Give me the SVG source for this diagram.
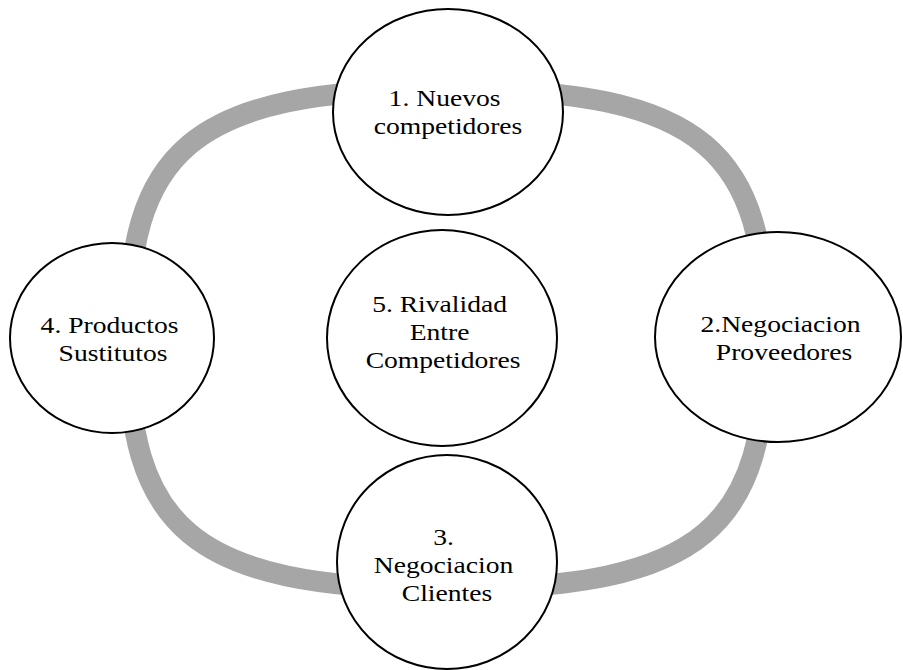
<svg xmlns="http://www.w3.org/2000/svg" width="903" height="670" viewBox="0 0 903 670">
  <style>
    .ring { fill: none; stroke: #A6A6A6; stroke-width: 21; }
    .node { fill: #FFFFFF; stroke: #000000; stroke-width: 2; }
    .label { font-family: Liberation Serif, Times New Roman, Times, serif; font-size: 23px; fill: #000000; text-anchor: middle; }
  </style>

  <!-- cycle ring behind the nodes -->
  <g id="connectors">
    <path class="ring" d="M447,89 C185.4,89 128,154 128,339 C128,524 185.4,589 447,589 C708.6,589 766,524 766,339 C766,154 708.6,89 447,89 Z"/>
  </g>

  <g id="node-1">
    <ellipse class="node" cx="448" cy="112" rx="115" ry="103"/>
    <text class="label" transform="translate(448,106) scale(1.2,1)">
      <tspan x="0" y="0">1. Nuevos</tspan>
      <tspan x="0" y="28">competidores</tspan>
    </text>
  </g>

  <g id="node-2">
    <ellipse class="node" cx="778" cy="337" rx="123" ry="105"/>
    <text class="label" transform="translate(784,332) scale(1.2,1)">
      <tspan x="0" y="0">2.Negociacion</tspan>
      <tspan x="0" y="28">Proveedores</tspan>
    </text>
  </g>

  <g id="node-3">
    <ellipse class="node" cx="447" cy="562" rx="110" ry="107"/>
    <text class="label" transform="translate(447,545) scale(1.2,1)">
      <tspan x="0" y="0">3.</tspan>
      <tspan x="0" y="28">Negociacion</tspan>
      <tspan x="0" y="56">Clientes</tspan>
    </text>
  </g>

  <g id="node-4">
    <ellipse class="node" cx="112" cy="338" rx="102" ry="95"/>
    <text class="label" transform="translate(113,333) scale(1.2,1)">
      <tspan x="0" y="0">4. Productos</tspan>
      <tspan x="0" y="28">Sustitutos</tspan>
    </text>
  </g>

  <g id="node-5">
    <ellipse class="node" cx="442" cy="338" rx="115" ry="108"/>
    <text class="label" transform="translate(443,312) scale(1.2,1)">
      <tspan x="0" y="0">5. Rivalidad</tspan>
      <tspan x="0" y="28">Entre</tspan>
      <tspan x="0" y="56">Competidores</tspan>
    </text>
  </g>
</svg>
